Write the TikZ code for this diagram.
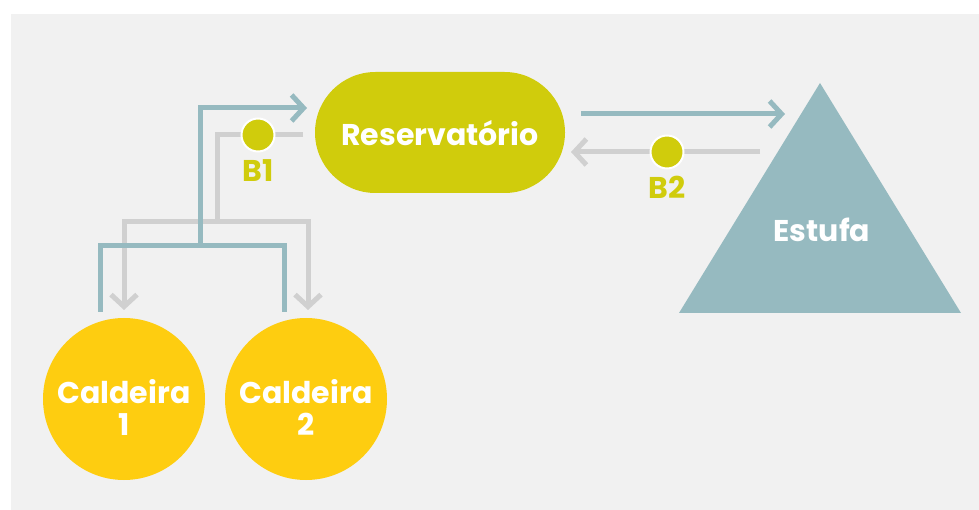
\documentclass[tikz,border=0pt]{standalone}
\usepackage{fontspec}
\setmainfont{Poppins}
\usetikzlibrary{arrows.meta}
\definecolor{panel}{HTML}{F1F1F1}
\definecolor{pipeblue}{HTML}{96BAC0}
\definecolor{pipegray}{HTML}{D0D0D0}
\definecolor{lime}{HTML}{D0CC0C}
\definecolor{gold}{HTML}{FECD10}
\begin{document}
\begin{tikzpicture}[x=1pt,y=-1pt,
  lbl/.style={font=\bfseries\fontsize{30}{32}\selectfont, text=white, align=center, inner sep=0pt},
  supply/.style={draw=pipeblue, line width=5pt},
  ret/.style={draw=pipegray, line width=5pt},
  tipend/.style={-{Straight Barb[length=12pt,width=26pt]}},
  pump/.style={circle, fill=lime, draw=white, line width=2pt, minimum size=33pt, inner sep=0pt},
  pumplbl/.style={font=\bfseries\fontsize{30}{32}\selectfont, text=lime, inner sep=0pt},
  boiler/.style={circle, fill=gold, minimum size=162pt, inner sep=0pt},
  tank/.style={rectangle, fill=lime, minimum width=250pt, minimum height=121pt, rounded corners=60.5pt, inner sep=0pt}]
\useasboundingbox (0,0) rectangle (979,510);
\fill[white] (0,0) rectangle (979,510);
\fill[panel] (11,14) rectangle (979,510);

% equipment
\node[tank] (res) at (440,132.5) {};
\node[lbl, anchor=base] (rest) at (440,146) {Reservatório};
\node[boiler] (c1) at (124,399) {};
\node[boiler] (c2) at (306,399) {};
\node[lbl] (c1t) at (124,407) {Caldeira\\1};
\node[lbl] (c2t) at (306,407) {Caldeira\\2};
\fill[pipeblue] (679,313) coordinate (estL) -- (820,83) coordinate (estT) -- (961,313) coordinate (estR) -- cycle;
\node[lbl, anchor=base] (est) at (822,242) {Estufa};

% pipe end points
\coordinate (s1) at (100,312);
\coordinate (s2) at (284,312);
\coordinate (sj) at (200,246);
\coordinate (sin) at (307,108);
\coordinate (r0) at (303,135);
\coordinate (rj) at (217,222);
\coordinate (r1) at (124,310);
\coordinate (r2) at (308,310);
\coordinate (eout) at (581,114);
\coordinate (ein) at (785,114);
\coordinate (bout) at (760,152);
\coordinate (bin) at (571,152);

% return pipes (grey)
\draw[ret] (r0) -- (rj |- r0) -- (rj);
\draw[ret, tipend] (rj) -| (r1);
\draw[ret, tipend] (rj) -| (r2);
\draw[ret, tipend] (bout) -- (bin);

% supply pipes (blue)
\draw[supply, line join=miter] (s1) |- (sj) -| (s2);
\draw[supply, tipend] (sj) |- (sin);
\draw[supply, tipend] (eout) -- (ein);

% pumps
\node[pump] (b1) at (258,135) {};
\node[pumplbl, anchor=base] (b1t) at (258,182) {B1};
\node[pump] (b2) at (667,152) {};
\node[pumplbl, anchor=base] (b2t) at (667,199) {B2};
\end{tikzpicture}
\end{document}
